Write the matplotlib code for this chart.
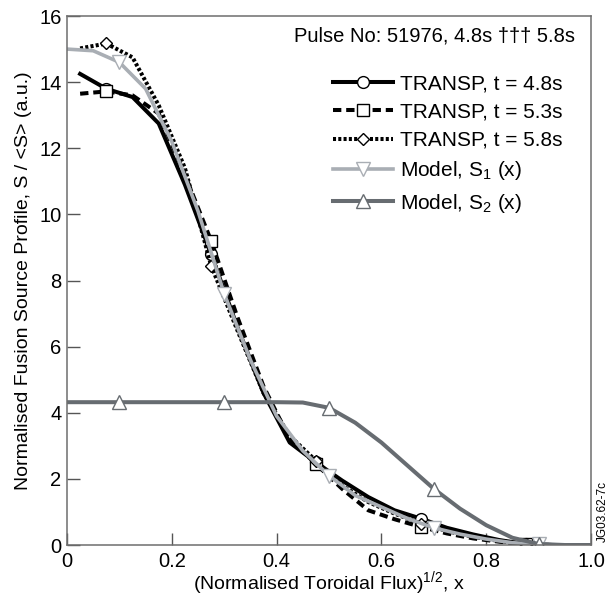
import numpy as np
import matplotlib
matplotlib.use("Agg")
import matplotlib.pyplot as plt
from matplotlib.lines import Line2D

plt.rcParams['font.family'] = ['Liberation Sans', 'DejaVu Sans']
plt.rcParams['mathtext.default'] = 'regular'
plt.rcParams['lines.scale_dashes'] = False

# TRANSP profiles (grid offset by 0.025)
x_tr = [0.025, 0.075, 0.125, 0.175, 0.225, 0.275, 0.325, 0.375, 0.425, 0.475,
        0.525, 0.575, 0.625, 0.675, 0.725, 0.775, 0.825, 0.875, 0.925, 0.975]
s_48 = [14.25, 13.8, 13.55, 12.75, 10.9, 8.8, 6.6, 4.6, 3.1, 2.5,
        1.95, 1.45, 1.05, 0.8, 0.52, 0.32, 0.15, 0.03, 0.0, 0.0]
s_53 = [13.65, 13.72, 13.6, 13.05, 11.2, 9.2, 6.9, 4.8, 3.2, 2.45,
        1.7, 1.05, 0.78, 0.55, 0.35, 0.2, 0.1, 0.02, 0.0, 0.0]
s_58 = [15.02, 15.17, 14.75, 13.3, 11.4, 8.45, 6.5, 4.6, 3.3, 2.55,
        1.8, 1.3, 0.95, 0.65, 0.42, 0.25, 0.12, 0.03, 0.0, 0.0]

# model profiles
x_mod = [0.0, 0.05, 0.1, 0.15, 0.2, 0.25, 0.3, 0.35, 0.4, 0.45, 0.5,
         0.55, 0.6, 0.65, 0.7, 0.75, 0.8, 0.85, 0.9, 0.95, 1.0]
s_m1 = [15.0, 14.95, 14.6, 13.8, 12.2, 10.1, 7.6, 5.6, 3.9, 2.85, 2.1,
        1.5, 1.15, 0.8, 0.52, 0.33, 0.18, 0.07, 0.02, 0.0, 0.0]
s_m2 = [4.32, 4.32, 4.32, 4.32, 4.32, 4.32, 4.32, 4.32, 4.32, 4.31, 4.15,
        3.7, 3.1, 2.4, 1.7, 1.1, 0.6, 0.22, 0.03, 0.0, 0.0]

labels = ['TRANSP, t = 4.8s', 'TRANSP, t = 5.3s', 'TRANSP, t = 5.8s',
          'Model, S$_1$ (x)', 'Model, S$_2$ (x)']
xtick_vals = [0, 0.2, 0.4, 0.6, 0.8, 1.0]
xtick_labels = ['0', '0.2', '0.4', '0.6', '0.8', '1.0']
ytick_vals = [0, 2, 4, 6, 8, 10, 12, 14, 16]

light = '#a9aeb4'
dark = '#676c71'

styles = [
    dict(color='black', lw=2.9, ls='-', marker='o', markeredgecolor='black', markersize=8.5),
    dict(color='black', lw=2.9, dashes=(6, 3.5), marker='s', markeredgecolor='black', markersize=8.5),
    dict(color='black', lw=2.9, dashes=(2.2, 1.6), marker='D', markeredgecolor='black', markersize=6.5),
    dict(color=light, lw=2.6, ls='-', marker='v', markeredgecolor=light, markersize=9.5),
    dict(color=dark, lw=2.9, ls='-', marker='^', markeredgecolor=dark, markersize=9.5),
]

fig = plt.figure(figsize=(6.12, 5.98), dpi=100)
ax = fig.add_axes([0.1095, 0.0886, 0.8562, 0.8846])

series = [(x_tr, s_48), (x_tr, s_53), (x_tr, s_58), (x_mod, s_m1), (x_mod, s_m2)]
every = [[1, 5, 9, 13, 17]] * 3 + [[2, 6, 10, 14, 18]] * 2
for (xs, ys), st, ev in zip(series, styles, every):
    ax.plot(xs, ys, markevery=ev, markerfacecolor='white', markeredgewidth=1.0, **st)

ax.set_xlim(0, 1)
ax.set_ylim(0, 16)
ax.set_xticks(xtick_vals)
ax.set_xticklabels(xtick_labels)
ax.set_yticks(ytick_vals)
ax.tick_params(direction='in', length=9, width=1, color='#555555',
               labelsize=14.5, top=False, right=False)
ax.tick_params(axis='x', pad=5)
ax.tick_params(axis='y', pad=4)
for s in ax.spines.values():
    s.set_color('#6e6e6e')
    s.set_linewidth(1.1)

ax.set_xlabel('(Normalised Toroidal Flux)$^{1/2}$, x', fontsize=14, labelpad=-1)
ax.set_ylabel('Normalised Fusion Source Profile, S / <S> (a.u.)', fontsize=14,
              labelpad=5)

ax.text(0.97, 0.962, 'Pulse No: 51976, 4.8s \u2020\u2020\u2020 5.8s',
        transform=ax.transAxes, ha='right', va='center', fontsize=14.5)

# legend proxies with a single marker in the middle of each handle
handles = [Line2D([], [], markerfacecolor='white', markeredgewidth=1.0, **st)
           for st in styles]
ax.legend(handles, labels, loc='upper right', bbox_to_anchor=(0.945, 0.89),
          frameon=False, fontsize=15, handlelength=2.9, handletextpad=0.3,
          labelspacing=0.45, borderpad=0, borderaxespad=0, numpoints=1)

fig.text(0.985, 0.093, 'JG03.62-7c', rotation=90, ha='center', va='bottom',
         fontsize=8.5)

fig.savefig('out.png', dpi=100)
